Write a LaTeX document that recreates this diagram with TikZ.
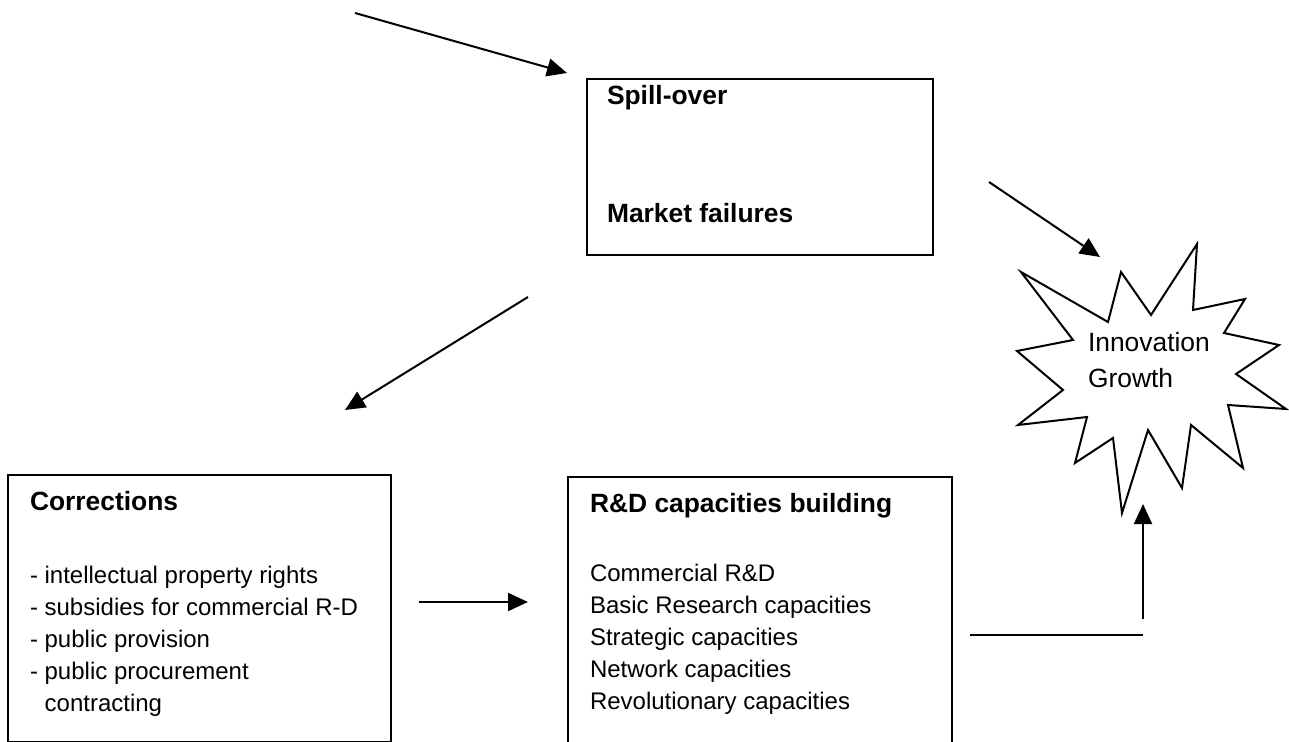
\documentclass[tikz,border=0pt]{standalone}
\usepackage{fontspec}
\setmainfont{Liberation Sans}
\usetikzlibrary{arrows.meta,positioning}

\begin{document}
\begin{tikzpicture}[x=0.5pt,y=-0.5pt,>={Triangle[length=10pt,width=9pt]},
    line width=1pt,
    box/.style={draw,line width=1pt,anchor=north west,inner sep=0pt},
    txt/.style={anchor=base west,inner sep=0pt,align=left,
      font=\fontsize{12pt}{16pt}\selectfont},
    head/.style={txt,font=\fontsize{13.2pt}{16pt}\selectfont\bfseries}]
  \useasboundingbox (0,0) rectangle (1289,742);

  % boxes
  \node[box,minimum width=173pt,minimum height=88pt] (spill) at (586,78) {};
  \node[box,minimum width=191.5pt,minimum height=133.5pt] (corr) at (7,474) {};
  \node[box,minimum width=192pt,minimum height=150pt] (rd) at (567,476) {};

  % box texts (multi-line nodes sit on their last line)
  \node[head] (spilltop) at (606,105) {Spill-over};
  \node[head] (spillbot) at (606,223) {Market failures};
  \node[head] (corrhead) at (29,510) {Corrections};
  \node[txt] (corrlist) at (29,711) {- intellectual property rights\\
    - subsidies for commercial R-D\\
    - public provision\\
    - public procurement\\
    \hphantom{- }contracting};
  \node[head] (rdhead) at (589,512) {R\&D capacities building};
  \node[txt] (rdlist) at (589,709) {Commercial R\&D\\
    Basic Research capacities\\
    Strategic capacities\\
    Network capacities\\
    Revolutionary capacities};

  % the burst
  \draw (1021,272) -- (1108,322) -- (1121,272) -- (1151,315) -- (1197,244)
    -- (1193,310) -- (1245,299) -- (1224,333) -- (1279,345) -- (1236,374)
    -- (1286,409) -- (1228,405) -- (1243,468) -- (1191,425) -- (1182,488)
    -- (1148,430) -- (1122,513) -- (1113,438) -- (1075,463) -- (1087,417)
    -- (1018,425) -- (1063,390) -- (1017,351) -- (1073,340) -- cycle;
  \node[txt,font=\fontsize{13.2pt}{18pt}\selectfont] (growth) at (1087,388) {Innovation\\Growth};

  % arrow ends
  \coordinate (in0) at (355,13);
  \coordinate (in1) at (567,73);
  \coordinate (out0) at (989,182);
  \coordinate (out1) at (1100,257);
  \coordinate (fix0) at (528,297);
  \coordinate (fix1) at (345,410);
  \coordinate (cap0) at (419,602);
  \coordinate (cap1) at (528,602);
  \coordinate (up0) at (970,635);
  \coordinate (up1) at (1143,635);
  \coordinate (up2) at (1143,619);
  \coordinate (up3) at (1143,504);

  \path[->]
    (in0) edge (in1)
    (out0) edge (out1)
    (fix0) edge (fix1)
    (cap0) edge (cap1)
    (up2) edge (up3);
  \draw (up0) -- (up1);
\end{tikzpicture}
\end{document}
